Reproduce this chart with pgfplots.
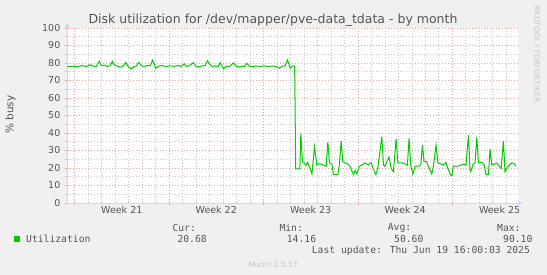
\documentclass[border=0pt]{standalone}
\usepackage{pgfplots}
\pgfplotsset{compat=1.18}
\usepackage{fontspec}
\setmainfont{DejaVu Sans}
\newfontfamily\monofont{DejaVu Sans Mono}
\usetikzlibrary{arrows.meta}
\definecolor{bg}{HTML}{F0F0F0}
\definecolor{fontcol}{HTML}{555555}
\definecolor{axiscol}{HTML}{CFD6F8}
\definecolor{gridred}{HTML}{E8A0A0}
\definecolor{gridgray}{HTML}{C8C8C8}
\definecolor{linegreen}{HTML}{00CC00}
\definecolor{faint}{HTML}{C4C4C4}
\begin{document}
\begin{tikzpicture}
\fill[bg] (0,0) rectangle (547bp,275bp);
\useasboundingbox (0,0) rectangle (547bp,275bp);
\begin{axis}[
  at={(67bp,72bp)}, anchor=south west,
  scale only axis, width=450.7bp, height=175bp,
  xmin=-0.56, xmax=32.84, ymin=0, ymax=100,
  axis background/.style={fill=white},
  axis lines=left,
  axis line style={draw=axiscol, line width=0.8bp, -{Triangle[length=4bp,width=5bp]}, shorten >=-4.5bp},
  xtick={0,7,14,21,28}, xticklabels={},
  minor xtick={1,2,3,4,5,6,8,9,10,11,12,13,15,16,17,18,19,20,22,23,24,25,26,27,29,30,31,32},
  ytick={0,10,...,100},
  minor ytick={5,15,...,95},
  grid=both,
  major grid style={draw=gridred, line width=0.8bp, dash pattern=on 1bp off 2bp},
  minor grid style={draw=gridgray, line width=0.8bp, dash pattern=on 1bp off 2bp},
  tick align=center,
  major tick length=4bp, minor tick length=3bp,
  major tick style={draw=gridred, line width=0.8bp},
  minor tick style={draw=gridgray, line width=0.8bp},
  tick label style={font=\fontsize{9.5bp}{11bp}\selectfont, text=fontcol},
  /pgf/number format/assume math mode=true,
  yticklabel style={anchor=east, inner sep=0pt, xshift=-4.5bp},
  xticklabel style={anchor=north, inner sep=0pt, yshift=-3bp},
  extra x ticks={3.5,10.5,17.5,24.5,31.5},
  extra x tick labels={Week 21,Week 22,Week 23,Week 24,Week 25},
  extra x tick style={grid=none, major tick length=0pt},
  clip=true,
]
\addplot[color=linegreen, line width=1bp, mark=none] coordinates {
(-0.54,77.8) (-0.17,78.2) (0.20,78.0) (0.57,78.5) (0.87,78.0) (1.16,79.0) (1.39,78.2) (1.61,78.0)
(1.83,81.0) (1.98,78.5) (2.20,78.8) (2.42,78.0) (2.64,78.4) (2.79,81.0) (2.94,79.0) (3.16,78.2)
(3.39,77.6) (3.61,78.3) (3.79,80.3) (3.98,78.0) (4.20,76.6) (4.42,78.0) (4.57,78.2) (4.77,80.4)
(4.94,78.5) (5.16,78.0) (5.39,78.6) (5.61,78.4) (5.78,81.6) (5.90,79.5) (6.01,76.8) (6.20,78.2)
(6.50,78.5) (6.79,78.0) (7.09,78.4) (7.39,78.1) (7.68,78.6) (7.90,78.0) (8.13,79.6) (8.27,78.0)
(8.50,78.4) (8.81,80.2) (9.01,78.0) (9.24,77.8) (9.46,78.4) (9.68,78.6) (9.85,81.3) (9.98,79.5)
(10.20,78.0) (10.42,78.3) (10.64,78.0) (10.79,80.2) (11.04,76.6) (11.24,78.2) (11.46,78.0) (11.78,80.0)
(11.98,78.2) (12.21,77.8) (12.43,78.3) (12.58,78.0) (12.77,79.8) (12.94,78.2) (13.16,77.8) (13.46,78.3)
(13.76,78.0) (14.05,78.4) (14.35,78.0) (14.65,78.3) (14.94,78.0) (15.19,77.0) (15.39,78.2) (15.61,78.3)
(15.78,81.7) (15.98,77.0) (16.13,78.3) (16.31,78.2) (16.39,19.5)
(16.70,19.6) (16.77,39.8) (16.89,23.6) (17.01,22.9) (17.14,21.5) (17.26,23.2) (17.39,21.0) (17.59,16.6)
(17.78,32.0) (17.96,21.7) (18.13,22.5) (18.35,22.0) (18.65,21.0) (18.77,34.7) (18.89,23.0) (19.07,22.3)
(19.19,16.2) (19.51,16.2) (19.61,21.0) (19.76,35.4) (19.88,23.6) (20.05,23.0) (20.24,22.3) (20.41,21.0)
(20.67,16.2) (20.79,18.6) (20.92,16.6) (21.09,21.0) (21.29,21.7) (21.53,22.9) (21.78,21.7) (21.98,23.0)
(22.15,19.3) (22.33,16.2) (22.47,19.8) (22.77,37.9) (22.89,21.7) (23.01,21.0) (23.14,23.6) (23.31,26.3)
(23.46,19.8) (23.63,17.9) (23.83,36.6) (23.96,22.9) (24.25,23.0) (24.42,22.5) (24.67,21.7) (24.79,37.1)
(24.92,21.0) (25.07,16.6) (25.24,21.0) (25.48,21.0) (25.66,21.7) (25.78,33.1) (25.90,23.6) (26.10,23.6)
(26.22,21.0) (26.35,18.6) (26.47,16.6) (26.59,21.0) (26.79,33.1) (26.92,22.9) (27.09,22.5) (27.33,21.7)
(27.51,23.2) (27.66,19.8) (27.83,16.6) (27.96,15.6) (28.07,21.0) (28.33,21.0) (28.57,21.4) (28.81,22.3)
(29.01,21.7) (29.19,38.9) (29.31,18.6) (29.36,17.9) (29.51,21.7) (29.68,22.9) (29.81,37.5) (29.93,22.9)
(30.18,23.2) (30.35,21.7) (30.50,16.2) (30.67,16.2) (30.79,30.9) (30.92,21.7) (31.09,22.2) (31.29,22.9)
(31.48,21.0) (31.61,19.8) (31.78,35.4) (31.90,17.9) (32.03,19.8) (32.22,21.7) (32.40,22.9) (32.57,22.5)
(32.72,21.0)
};
\end{axis}
% title and labels
\node[anchor=base, inner sep=0pt, text=fontcol, font=\fontsize{12.5bp}{14bp}\selectfont] at (273bp,251.5bp) {Disk utilization for /dev/mapper/pve-data\_tdata - by month};
\node[rotate=90, inner sep=0pt, text=fontcol, font=\fontsize{10.5bp}{12bp}\selectfont] at (10.5bp,160.5bp) {\% busy};
\node[rotate=-90, inner sep=0pt, text=faint, font=\fontsize{7.5bp}{9bp}\selectfont] at (536.7bp,221bp) {RRDTOOL / TOBI OETIKER};
% legend
\fill[linegreen] (13.5bp,32.7bp) rectangle (19.5bp,38.7bp);
\begin{scope}[every node/.style={anchor=west, inner sep=0pt, text=fontcol, font=\monofont\fontsize{9.7bp}{11bp}\selectfont}]
\node at (26bp,35.7bp) {Utilization};
\node at (172.3bp,47.3bp) {Cur:};
\node at (177.3bp,35.7bp) {20.68};
\node at (279.3bp,47.3bp) {Min:};
\node at (286.7bp,35.7bp) {14.16};
\node at (387.7bp,47.3bp) {Avg:};
\node at (394bp,35.7bp) {50.60};
\node at (497bp,47.3bp) {Max:};
\node at (503bp,35.7bp) {90.10};
\node at (311.7bp,23.7bp) {Last update: Thu Jun 19 16:00:03 2025};
\end{scope}
\node[anchor=west, inner sep=0pt, text=faint, font=\fontsize{7.5bp}{9bp}\selectfont] at (248.3bp,10.3bp) {Munin 2.0.57};
\end{tikzpicture}
\end{document}
